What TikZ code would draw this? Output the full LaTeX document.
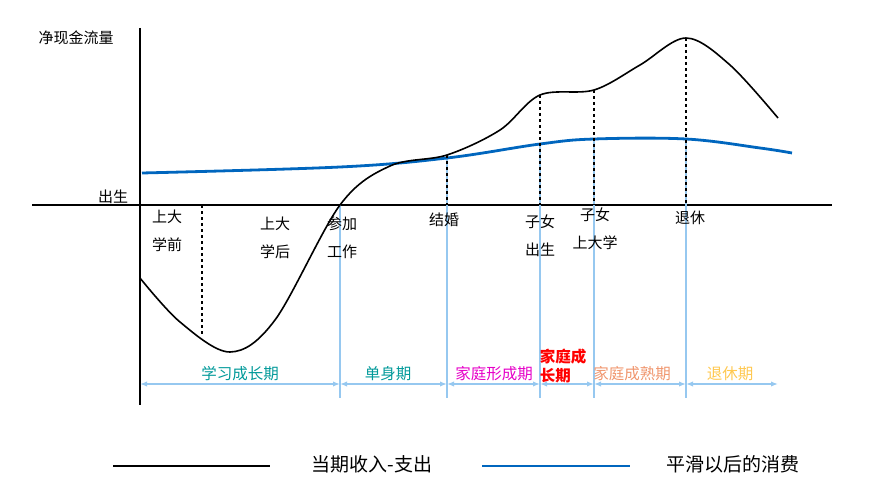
\documentclass[tikz,border=0pt]{standalone}
\usepackage{fontspec}
\setmainfont{Noto Sans CJK SC}
\usetikzlibrary{arrows.meta}
\begin{document}
\begin{tikzpicture}[x=1pt,y=-1pt,
  lbl/.style={font=\fontsize{15}{28}\selectfont,align=center,inner sep=0pt},
  phase/.style={font=\fontsize{15.5}{18}\selectfont,inner sep=0pt},
  dsh/.style={dashed,line width=1.3pt},
  vb/.style={draw={rgb,255:red,150;green,200;blue,240},line width=1.2pt},
  arr/.style={{Latex[length=7pt]}-{Latex[length=7pt]},draw={rgb,255:red,150;green,200;blue,240},line width=1.2pt}]
\useasboundingbox (0,0) rectangle (870,500);
% axes
\coordinate (yt) at (140,28); \coordinate (yb) at (140,405);
\coordinate (xl) at (32,205); \coordinate (xr) at (832,205);
\draw[line width=2.2pt] (yt) -- (yb);
\draw[line width=2.2pt] (xl) -- (xr);
% light blue verticals
\foreach \x/\y in {340/205,447/158,540/145,594/139,686/139}{\draw[vb] (\x,\y) -- (\x,398);}
% blue curve
\draw[line width=2.8pt,color={rgb,255:red,0;green,102;blue,190}] plot[smooth,tension=0.6] coordinates {(142,173) (340,167) (447,158) (540,144) (594,139) (686,139) (760,148) (792,153)};
% black curve
\draw[line width=1.6pt] plot[smooth,tension=0.55] coordinates {(140,278) (180,322) (230,352) (275,320) (340,205) (390,166) (447,155) (500,130) (540,95) (594,90) (640,65) (686,38) (730,65) (778,118)};
% dashed
\draw[dsh] (202,205) -- (202,335);
\draw[dsh] (447,155) -- (447,205);
\draw[dsh] (540,95) -- (540,205);
\draw[dsh] (594,90) -- (594,205);
\draw[dsh] (686,38) -- (686,205);
% labels
\node[lbl] (t0) at (76,38) {净现金流量};
\node[lbl] (t1) at (113,197) {出生};
\node[lbl] (t2) at (167,231) {上大\\学前};
\node[lbl] (t3) at (275,238) {上大\\学后};
\node[lbl] (t4) at (342,238) {参加\\工作};
\node[lbl] (t5) at (444,220) {结婚};
\node[lbl] (t6) at (540,236) {子女\\出生};
\node[lbl] (t7) at (595,229) {子女\\上大学};
\node[lbl] (t8) at (690,218) {退休};
% phase arrows
\foreach \a/\b in {140/340,340/447,447/540,540/594,594/686,686/778}{\draw[arr] (\a,384) -- (\b,384);}
\node[phase,color={rgb,255:red,0;green,153;blue,153}] (p1) at (240,374) {学习成长期};
\node[phase,color={rgb,255:red,0;green,153;blue,153}] (p2) at (388,374) {单身期};
\node[phase,color={rgb,255:red,230;green,0;blue,200}] (p3) at (494,374) {家庭形成期};
\node[phase,color=red,font=\bfseries\fontsize{15.5}{19}\selectfont,align=left] (p4) at (563,366) {家庭成\\长期};
\node[phase,color={rgb,255:red,240;green,150;blue,110}] (p5) at (632,374) {家庭成熟期};
\node[phase,color={rgb,255:red,255;green,200;blue,80}] (p6) at (730,374) {退休期};
% legend
\coordinate (l1a) at (113,466); \coordinate (l1b) at (270,466);
\coordinate (l2a) at (482,466); \coordinate (l2b) at (630,466);
\draw[line width=1.6pt] (l1a) -- (l1b);
\draw[line width=2.8pt,color={rgb,255:red,0;green,102;blue,190}] (l2a) -- (l2b);
\node[lbl,font=\fontsize{19}{22}\selectfont] (g1) at (372,464) {当期收入-支出};
\node[lbl,font=\fontsize{19}{22}\selectfont] (g2) at (733,464) {平滑以后的消费};
\end{tikzpicture}
\end{document}
